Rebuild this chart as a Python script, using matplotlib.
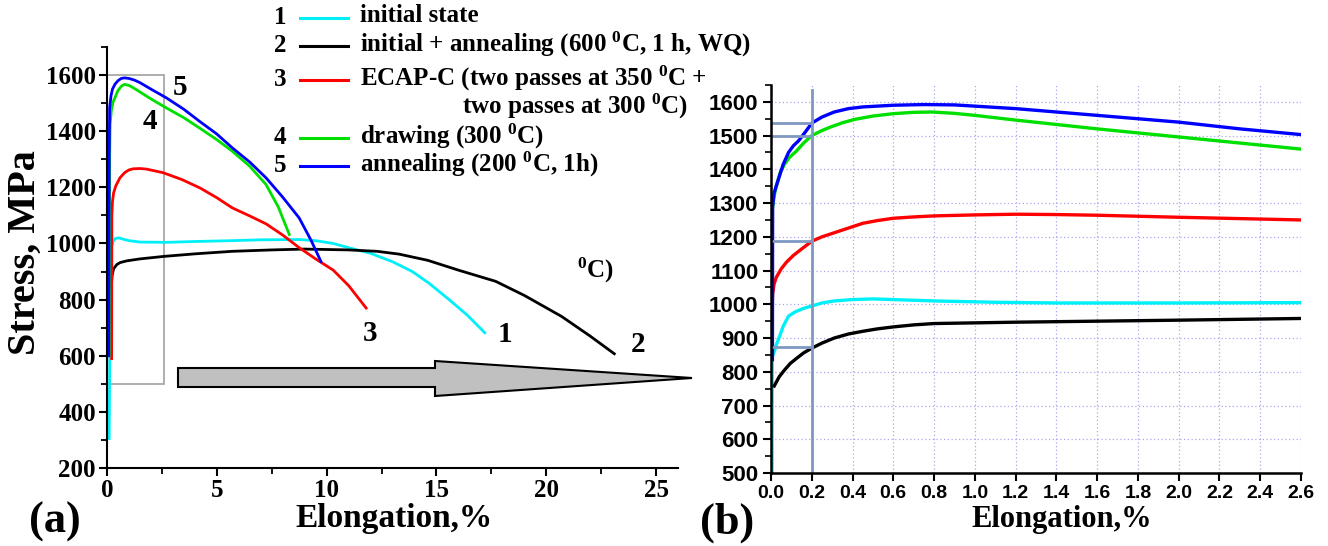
import numpy as np
import matplotlib
matplotlib.use("Agg")
import matplotlib.pyplot as plt
from matplotlib.patches import Polygon, Rectangle
from matplotlib.ticker import MultipleLocator

plt.rcParams["font.family"] = ["Liberation Serif", "DejaVu Serif"]
plt.rcParams["font.weight"] = "bold"
plt.rcParams["mathtext.fontset"] = "custom"
plt.rcParams["mathtext.rm"] = "Liberation Serif:bold"
plt.rcParams["mathtext.bf"] = "Liberation Serif:bold"
plt.rcParams["mathtext.it"] = "Liberation Serif:bold:italic"
plt.rcParams["lines.solid_joinstyle"] = "round"

W, H = 1328, 546

# (a) full stress-strain curves: elongation %, stress MPa
c1_x = [0.10, 0.15, 0.20, 0.30, 0.40, 0.53, 0.75, 1.0, 1.5, 2.7, 4.0, 5.7, 7.0, 8.75, 9.5, 10.3,
        11.0, 12.0, 13.0, 13.9, 14.65, 15.5, 16.4, 17.2]
c1_y = [305, 900, 990, 1012, 1018, 1020, 1015, 1010, 1005, 1004, 1007, 1010, 1013, 1014, 1010, 1000,
        985, 965, 935, 900, 859, 805, 745, 682]
c2_x = [0.20, 0.23, 0.30, 0.45, 0.60, 0.90, 1.5, 2.6, 4.0, 5.7, 7.5, 9.0, 11.0, 12.3, 13.3, 14.6,
        16.0, 17.7, 19.0, 20.7, 22.0, 23.1]
c2_y = [853, 885, 910, 925, 932, 938, 945, 954, 963, 972, 977, 980, 977, 972, 962, 940,
        905, 865, 815, 740, 670, 607]
c3_x = [0.21, 0.22, 0.25, 0.30, 0.40, 0.59, 0.80, 1.0, 1.19, 1.5, 1.8, 2.56, 3.4, 4.23, 5.0, 5.7,
        6.5, 7.24, 8.0, 8.75, 9.5, 10.3, 11.0, 11.8]
c3_y = [590, 1100, 1150, 1180, 1205, 1234, 1252, 1262, 1266, 1267, 1265, 1252, 1228, 1198, 1163, 1127,
        1098, 1070, 1030, 985, 945, 905, 850, 770]
c4_x = [0.10, 0.12, 0.14, 0.20, 0.28, 0.36, 0.50, 0.65, 0.80, 1.0, 1.19, 1.6, 2.0, 2.7, 3.5, 4.2,
        5.0, 5.7, 6.5, 7.24, 7.8, 8.3]
c4_y = [600, 1300, 1424, 1475, 1505, 1519, 1545, 1560, 1567, 1563, 1555, 1535, 1515, 1483, 1448, 1412,
        1370, 1329, 1275, 1210, 1130, 1032]
c5_x = [0.08, 0.10, 0.12, 0.18, 0.25, 0.36, 0.50, 0.65, 0.80, 1.0, 1.25, 1.5, 2.0, 2.7, 3.5, 4.2,
        5.0, 5.7, 6.5, 7.24, 8.0, 8.75, 9.3, 9.74]
c5_y = [600, 1300, 1483, 1525, 1550, 1567, 1580, 1588, 1590, 1588, 1582, 1573, 1550, 1519, 1478, 1436,
        1390, 1341, 1290, 1234, 1165, 1091, 1010, 936]

# (b) first 2.6 % of the same curves
b1_x = [0.005, 0.006, 0.016, 0.026, 0.036, 0.06, 0.086, 0.12, 0.16, 0.2, 0.25, 0.31, 0.4, 0.5,
        0.65, 0.8, 1.1, 1.4, 2.0, 2.6]
b1_y = [500, 845, 860, 880, 895, 935, 965, 978, 988, 995, 1004, 1010, 1014, 1016,
        1013, 1010, 1006, 1004, 1004, 1005]
b2_x = [0.016, 0.04, 0.066, 0.095, 0.126, 0.16, 0.2, 0.25, 0.31, 0.38, 0.45, 0.52, 0.6, 0.7, 0.8,
        1.0, 1.2, 1.6, 2.0, 2.6]
b2_y = [758, 785, 805, 825, 840, 856, 870, 885, 900, 912, 920, 927, 933, 939, 943,
        945, 947, 950, 953, 958]
b3_x = [0.006, 0.008, 0.015, 0.026, 0.05, 0.076, 0.11, 0.146, 0.2, 0.25, 0.31, 0.38, 0.45, 0.52,
        0.6, 0.7, 0.8, 1.0, 1.2, 1.4, 1.6, 2.0, 2.3, 2.6]
b3_y = [1000, 1030, 1060, 1080, 1105, 1125, 1145, 1162, 1187, 1200, 1212, 1226, 1240, 1248,
        1255, 1259, 1262, 1265, 1267, 1266, 1264, 1258, 1254, 1250]
b4_x = [0.006, 0.015, 0.026, 0.045, 0.066, 0.09, 0.126, 0.16, 0.2, 0.25, 0.29, 0.35, 0.41, 0.5,
        0.6, 0.7, 0.79, 0.9, 1.0, 1.2, 1.4, 1.6, 2.0, 2.3, 2.6]
b4_y = [1280, 1320, 1350, 1390, 1415, 1435, 1455, 1478, 1500, 1515, 1525, 1538, 1548, 1558,
        1565, 1569, 1570, 1566, 1560, 1546, 1533, 1520, 1496, 1478, 1460]
b5_x = [0.007, 0.008, 0.015, 0.036, 0.06, 0.086, 0.11, 0.136, 0.17, 0.2, 0.25, 0.31, 0.38, 0.45,
        0.6, 0.75, 0.9, 1.2, 1.6, 2.0, 2.3, 2.6]
b5_y = [836, 1290, 1330, 1370, 1415, 1450, 1470, 1485, 1512, 1537, 1555, 1570, 1580, 1585,
        1590, 1592, 1591, 1580, 1560, 1540, 1520, 1503]

# proof stress read-offs at 0.2 %
offset_x = 0.2
offset_y = [1537, 1500, 1187, 872]

colors = ["#00f0f8", "#000000", "#ff0000", "#00e000", "#0000ff"]
legend_labels = ["initial state",
                 "initial + annealing (600 $^{0}$C, 1 h, WQ)",
                 "ECAP-C (two passes at 350 $^{0}$C +",
                 "drawing (300 $^{0}$C)",
                 "annealing (200 $^{0}$C, 1h)"]


def fx(px):
    return px / W


def fy(py):
    return 1 - py / H


fig = plt.figure(figsize=(W / 100, H / 100), dpi=100)

# ---- panel (a)
ax1 = fig.add_axes([fx(107), fy(468), (678 - 107) / W, (468 - 47) / H])
for xs, ys, c in zip([c1_x, c2_x, c3_x, c4_x, c5_x], [c1_y, c2_y, c3_y, c4_y, c5_y], colors):
    ax1.plot(xs, ys, color=c, lw=2.0)
ax1.add_patch(Rectangle((0, 500), 2.6, 1100, fill=False, ec="#a8a8a8", lw=1.3))
ax1.set_xlim(0, 26)
ax1.set_ylim(200, 1700)
ax1.xaxis.set_major_locator(MultipleLocator(5))
ax1.xaxis.set_minor_locator(MultipleLocator(2.5))
ax1.yaxis.set_major_locator(MultipleLocator(200))
ax1.yaxis.set_minor_locator(MultipleLocator(100))
for s in ["top", "right"]:
    ax1.spines[s].set_visible(False)
for s in ["left", "bottom"]:
    ax1.spines[s].set_linewidth(1.5)
ax1.tick_params(which="major", length=6, width=1.5, labelsize=18, pad=2)
ax1.tick_params(which="minor", length=4, width=1.3)
for lab in ax1.get_xticklabels() + ax1.get_yticklabels():
    lab.set_fontweight("bold")

ax1.text(3.0, 1555, "5", fontsize=21, ha="left", va="center")
ax1.text(1.6, 1435, "4", fontsize=21, ha="left", va="center")
ax1.text(12.0, 680, "3", fontsize=21, ha="center", va="center")
ax1.text(18.1, 675, "1", fontsize=21, ha="center", va="center")
ax1.text(24.2, 640, "2", fontsize=21, ha="center", va="center")
ax1.text(21.4, 905, "$^{0}$C)", fontsize=18, ha="left", va="center")

# ---- panel (b)
ax2 = fig.add_axes([fx(771), fy(473), (1301 - 771) / W, (473 - 85) / H])
ax2.set_xlim(0, 2.6)
ax2.set_ylim(500, 1650)
ax2.xaxis.set_major_locator(MultipleLocator(0.2))
ax2.yaxis.set_major_locator(MultipleLocator(100))
ax2.yaxis.set_minor_locator(MultipleLocator(50))
ax2.grid(True, which="major", color="#a8a8f0", ls=(0, (1, 2)), lw=0.9)
ax2.set_axisbelow(True)
for xs, ys, c in zip([b1_x, b2_x, b3_x, b4_x, b5_x], [b1_y, b2_y, b3_y, b4_y, b5_y], colors):
    ax2.plot(xs, ys, color=c, lw=2.4)
ax2.plot([offset_x, offset_x], [500, 1635], color="#7f98c2", lw=2)
for yv in offset_y:
    ax2.plot([0, offset_x], [yv, yv], color="#7f98c2", lw=2)
for s in ["top", "right"]:
    ax2.spines[s].set_visible(False)
for s in ["left", "bottom"]:
    ax2.spines[s].set_linewidth(1.8)
ax2.tick_params(which="major", length=6, width=1.5, pad=3)
ax2.tick_params(which="minor", length=4, width=1.2)
for lab in ax2.get_xticklabels():
    lab.set_fontfamily("Liberation Sans")
    lab.set_fontweight("bold")
    lab.set_fontsize(14)
for lab in ax2.get_yticklabels():
    lab.set_fontfamily("Liberation Sans")
    lab.set_fontweight("bold")
    lab.set_fontsize(16)

# ---- axis titles and panel letters
fig.text(fx(25), fy(253), "Stress, MPa", rotation=90, fontsize=29, ha="center", va="center")
fig.text(fx(394), fy(518), "Elongation,%", fontsize=24, ha="center", va="center")
fig.text(fx(1062), fy(520), "Elongation,%", fontsize=22, ha="center", va="center")
fig.text(fx(55), fy(522), "(a)", fontsize=32, ha="center", va="center")
fig.text(fx(727), fy(523), "(b)", fontsize=32, ha="center", va="center")

# ---- legend drawn by hand
leg_y = [18, 46, 80, 138, 166]
for i, (yy, c, lab) in enumerate(zip(leg_y, colors, legend_labels)):
    fig.text(fx(280), fy(yy), str(i + 1), fontsize=18, ha="center", va="center")
    fig.lines.append(plt.Line2D([fx(300), fx(348)], [fy(yy), fy(yy)], color=c, lw=2.2,
                                transform=fig.transFigure))
    fig.text(fx(360), fy(yy - 2), lab, fontsize=18, ha="left", va="center")
fig.text(fx(688), fy(106), "two passes at 300 $^{0}$C)", fontsize=18, ha="right", va="center")

# ---- big arrow from (a) to (b)
arrow_px = [(178, 368), (435, 368), (435, 361), (692, 378), (435, 396), (435, 387), (178, 387)]
fig.patches.append(Polygon([(fx(a), fy(b)) for a, b in arrow_px], closed=True, fc="#c0c0c0",
                           ec="black", lw=1.5, transform=fig.transFigure))

fig.savefig("out.png", dpi=100)
